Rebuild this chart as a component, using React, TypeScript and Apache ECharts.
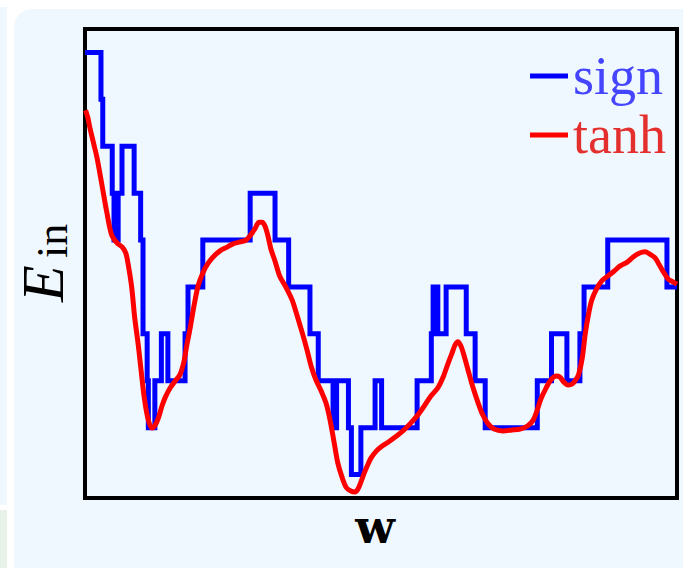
import React, { useEffect, useRef } from "react";
import * as echarts from "echarts";

// sign (step) curve: start of each step in w, and its E level
const signW = [0, 2.7, 3.0, 4.6, 4.9, 5.6, 6.25, 8.3, 9.4, 9.8, 10.5, 10.7, 11.8, 12.9, 14.0, 16.9, 17.4, 19.9, 27.9, 32.1, 34.4, 38.0, 39.4, 41.9, 42.5, 44.5, 45.0, 46.6, 49.0, 50.1, 56.1, 58.5, 58.8, 59.6, 61.0, 64.4, 65.9, 67.6, 76.4, 78.8, 81.4, 83.6, 84.3, 88.3, 98.3, 100];
const signE = [10, 9, 8, 7, 6, 7, 8, 7, 6, 4, 3, 2, 3, 4, 3, 4, 5, 6, 7, 6, 5, 4, 3, 2, 3, 2, 1, 2, 3, 2, 3, 4, 5, 4, 5, 4, 3, 2, 3, 4, 3, 4, 5, 6, 5, 5];

// tanh (smooth) curve
const tanhW = [0.1, 0.5, 0.8, 1.4, 2.0, 2.8, 3.7, 4.5, 5.4, 6.3, 6.9, 7.4, 7.9, 8.4, 9.0, 9.5, 10.0, 10.6, 11.3, 11.8, 12.4, 13.0, 13.5, 14.4, 15.2, 16.0, 16.7, 17.2, 17.7, 18.4, 19.1, 19.9, 20.8, 21.8, 22.8, 24.0, 25.0, 26.2, 27.2, 28.0, 28.7, 29.4, 29.9, 30.4, 30.9, 31.4, 32.1, 32.9, 34.0, 35.0, 35.8, 36.7, 37.5, 38.2, 39.0, 39.9, 40.7, 41.4, 42.1, 42.7, 43.4, 44.1, 44.9, 45.6, 46.1, 46.6, 47.1, 47.6, 48.3, 49.2, 50.2, 51.2, 52.4, 53.7, 54.9, 56.1, 57.3, 58.4, 59.6, 60.5, 61.3, 62.0, 62.5, 63.0, 63.5, 64.0, 64.7, 65.5, 66.4, 67.2, 68.1, 69.1, 70.6, 72.1, 73.5, 74.8, 75.7, 76.4, 77.0, 77.9, 78.7, 79.6, 80.2, 80.9, 81.6, 82.3, 82.9, 83.4, 84.0, 84.5, 85.0, 85.6, 86.5, 87.3, 88.3, 89.4, 90.4, 91.6, 92.6, 93.6, 94.6, 95.4, 96.3, 97.1, 97.8, 98.5, 99.3, 100];
const tanhE = [8.77, 8.60, 8.41, 8.09, 7.77, 7.22, 6.58, 6.11, 5.94, 5.85, 5.72, 5.40, 4.98, 4.34, 3.76, 3.19, 2.65, 2.21, 1.99, 2.04, 2.21, 2.46, 2.63, 2.85, 2.99, 3.12, 3.40, 3.76, 4.08, 4.59, 5.02, 5.30, 5.51, 5.66, 5.77, 5.85, 5.92, 5.96, 6.00, 6.11, 6.24, 6.38, 6.38, 6.30, 6.09, 5.81, 5.55, 5.23, 4.98, 4.72, 4.40, 4.02, 3.66, 3.31, 3.02, 2.78, 2.53, 2.16, 1.67, 1.25, 0.95, 0.73, 0.65, 0.63, 0.69, 0.84, 1.01, 1.16, 1.35, 1.50, 1.61, 1.69, 1.80, 1.93, 2.08, 2.25, 2.46, 2.67, 2.85, 3.08, 3.36, 3.59, 3.76, 3.83, 3.74, 3.55, 3.23, 2.87, 2.53, 2.27, 2.08, 1.97, 1.93, 1.95, 1.97, 2.04, 2.16, 2.38, 2.61, 2.85, 3.02, 3.10, 3.08, 2.97, 2.91, 2.93, 3.02, 3.14, 3.49, 4.00, 4.38, 4.72, 4.98, 5.13, 5.23, 5.34, 5.45, 5.53, 5.64, 5.72, 5.75, 5.70, 5.62, 5.45, 5.30, 5.17, 5.11, 5.06];

const seriesNames = ["sign", "tanh"];
const xLabel = "w";
const yLabelMain = "E";
const yLabelSub = "in";

export default function App() {
  const ref = useRef<HTMLDivElement>(null);
  useEffect(() => {
    if (!ref.current) return;
    const chart = echarts.init(ref.current, undefined, { renderer: "svg" });
    const signData = signW.map((w, i) => [w, signE[i]]);
    const tanhData = tanhW.map((w, i) => [w, tanhE[i]]);
    chart.setOption({
      animation: false,
      backgroundColor: "transparent",
      grid: {
        left: 85,
        top: 29,
        width: 592,
        height: 469,
        show: true,
        borderColor: "#000",
        borderWidth: 4,
        backgroundColor: "transparent",
      },
      xAxis: {
        type: "value",
        min: 0,
        max: 100,
        axisLine: { show: false },
        axisTick: { show: false },
        axisLabel: { show: false },
        splitLine: { show: false },
      },
      yAxis: {
        type: "value",
        min: 0.5,
        max: 10.5,
        axisLine: { show: false },
        axisTick: { show: false },
        axisLabel: { show: false },
        splitLine: { show: false },
      },
      legend: {
        orient: "vertical",
        left: 530,
        top: 49,
        padding: 0,
        itemGap: 5,
        itemWidth: 38,
        itemHeight: 5,
        textStyle: { fontFamily: "Liberation Serif", fontSize: 54 },
        data: [
          { name: seriesNames[0], icon: "rect", textStyle: { color: "#4545ff" } },
          { name: seriesNames[1], icon: "rect", textStyle: { color: "#e3302f" } },
        ],
      },
      graphic: [
        {
          type: "text",
          x: 43,
          y: 302,
          rotation: Math.PI / 2,
          style: {
            text: yLabelMain,
            font: 'italic 60px "Liberation Serif"',
            fill: "#000",
            align: "left",
            verticalAlign: "middle",
          },
        },
        {
          type: "text",
          x: 52,
          y: 258,
          rotation: Math.PI / 2,
          style: {
            text: yLabelSub,
            font: '44px "Liberation Serif"',
            fill: "#000",
            align: "left",
            verticalAlign: "middle",
          },
        },
        {
          type: "text",
          x: 375,
          y: 527,
          style: {
            text: xLabel,
            font: 'bold 46px "DejaVu Serif"',
            fill: "#000",
            align: "center",
            verticalAlign: "middle",
          },
        },
      ],
      series: [
        {
          name: seriesNames[0],
          type: "line",
          step: "end",
          data: signData,
          showSymbol: false,
          color: "#0000ff",
          lineStyle: { color: "#0000ff", width: 5, join: "miter" },
          z: 2,
        },
        {
          name: seriesNames[1],
          type: "line",
          data: tanhData,
          smooth: 0.3,
          showSymbol: false,
          color: "#ff0000",
          lineStyle: { color: "#ff0000", width: 5 },
          z: 3,
        },
      ],
    });
    return () => chart.dispose();
  }, []);

  return (
    <div style={{ position: "absolute", left: 0, top: 0, width: 683, height: 568, background: "#ffffff", overflow: "hidden" }}>
      <div style={{ position: "absolute", left: 0, top: 7, width: 7, height: 498, background: "#f0f8ff" }} />
      <div style={{ position: "absolute", left: 0, top: 510, width: 7, height: 58, background: "#e8f2e8" }} />
      <div style={{ position: "absolute", left: 14, top: 9, width: 700, height: 600, background: "#f0f8ff", borderRadius: 18 }} />
      <div ref={ref} style={{ position: "absolute", left: 0, top: 0, width: 683, height: 568 }} />
    </div>
  );
}
